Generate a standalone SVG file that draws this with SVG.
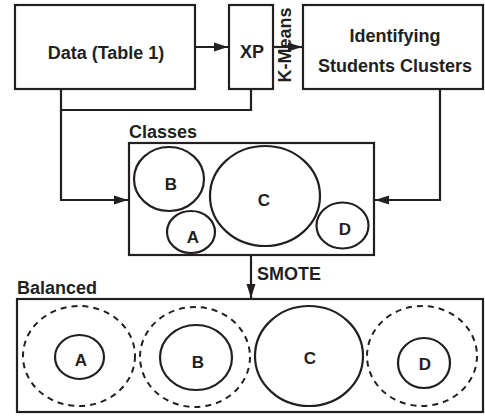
<svg xmlns="http://www.w3.org/2000/svg" width="485" height="416" viewBox="0 0 485 416">
  <style>
    .box { fill: #ffffff; stroke: #231f20; stroke-width: 2.2; }
    .ring { fill: none; stroke: #231f20; stroke-width: 2.2; }
    .dash { fill: none; stroke: #231f20; stroke-width: 2; stroke-dasharray: 6 5; }
    .wire { fill: none; stroke: #231f20; stroke-width: 2.2; }
    text { font-family: "Liberation Sans", Arial, Helvetica, sans-serif; font-weight: bold; fill: #231f20; }
    .big { font-size: 18px; }
    .lbl { font-size: 17px; text-anchor: middle; }
    .mid { text-anchor: middle; }
  </style>
  <defs>
    <marker id="arrow" markerUnits="userSpaceOnUse" markerWidth="15" markerHeight="10" refX="14" refY="5" orient="auto">
      <path d="M0,0.5 L14,5 L0,9.5 Z" fill="#231f20"/>
    </marker>
  </defs>

  <!-- connectors -->
  <g id="connectors">
    <path class="wire" d="M195,47 H228" marker-end="url(#arrow)"/>
    <path class="wire" d="M273,47 H302" marker-end="url(#arrow)"/>
    <path class="wire" d="M251,89 V110 H61"/>
    <path class="wire" d="M61,89 V200 H128" marker-end="url(#arrow)"/>
    <path class="wire" d="M440,89 V200 H375" marker-end="url(#arrow)"/>
    <path class="wire" d="M251,255 V298" marker-end="url(#arrow)"/>
    <text class="big" transform="translate(291,45) rotate(-90)" text-anchor="middle">K-Means</text>
    <text class="big" x="257" y="280">SMOTE</text>
  </g>

  <!-- source data -->
  <g id="data">
    <rect class="box" x="15" y="5" width="180" height="84"/>
    <text class="big mid" x="106" y="59">Data (Table 1)</text>
  </g>

  <!-- XP -->
  <g id="xp">
    <rect class="box" x="229" y="5" width="44" height="84"/>
    <text class="big mid" x="252" y="58">XP</text>
  </g>

  <!-- clustering -->
  <g id="clusters">
    <rect class="box" x="303" y="5" width="180" height="84"/>
    <text class="big mid" x="395" y="42">Identifying</text>
    <text class="big mid" x="395" y="72">Students Clusters</text>
  </g>

  <!-- imbalanced classes -->
  <g id="classes">
    <text class="big" x="129" y="138">Classes</text>
    <rect class="box" x="129" y="143" width="245" height="112"/>
    <ellipse class="ring" cx="169" cy="179" rx="35" ry="32"/>
    <text class="lbl" x="171" y="190">B</text>
    <ellipse class="ring" cx="191" cy="232" rx="24" ry="21"/>
    <text class="lbl" x="193" y="243">A</text>
    <ellipse class="ring" cx="265" cy="196" rx="55" ry="50"/>
    <text class="lbl" x="264" y="206">C</text>
    <ellipse class="ring" cx="342.5" cy="225.5" rx="26" ry="23"/>
    <text class="lbl" x="345" y="235">D</text>
  </g>

  <!-- balanced classes -->
  <g id="balanced">
    <text class="big" x="17" y="294">Balanced</text>
    <rect class="box" x="17" y="299" width="466" height="113"/>
    <ellipse class="dash" cx="79" cy="356" rx="56" ry="50"/>
    <ellipse class="ring" cx="79.5" cy="357" rx="24.5" ry="22"/>
    <text class="lbl" x="81" y="366">A</text>
    <ellipse class="dash" cx="195" cy="357" rx="55" ry="50"/>
    <ellipse class="ring" cx="196" cy="357.5" rx="36" ry="32.5"/>
    <text class="lbl" x="198" y="368">B</text>
    <ellipse class="ring" cx="309" cy="356" rx="54" ry="50"/>
    <text class="lbl" x="310" y="364">C</text>
    <ellipse class="dash" cx="422" cy="356" rx="55" ry="50"/>
    <ellipse class="ring" cx="424" cy="363" rx="26" ry="25"/>
    <text class="lbl" x="425" y="370">D</text>
  </g>
</svg>
